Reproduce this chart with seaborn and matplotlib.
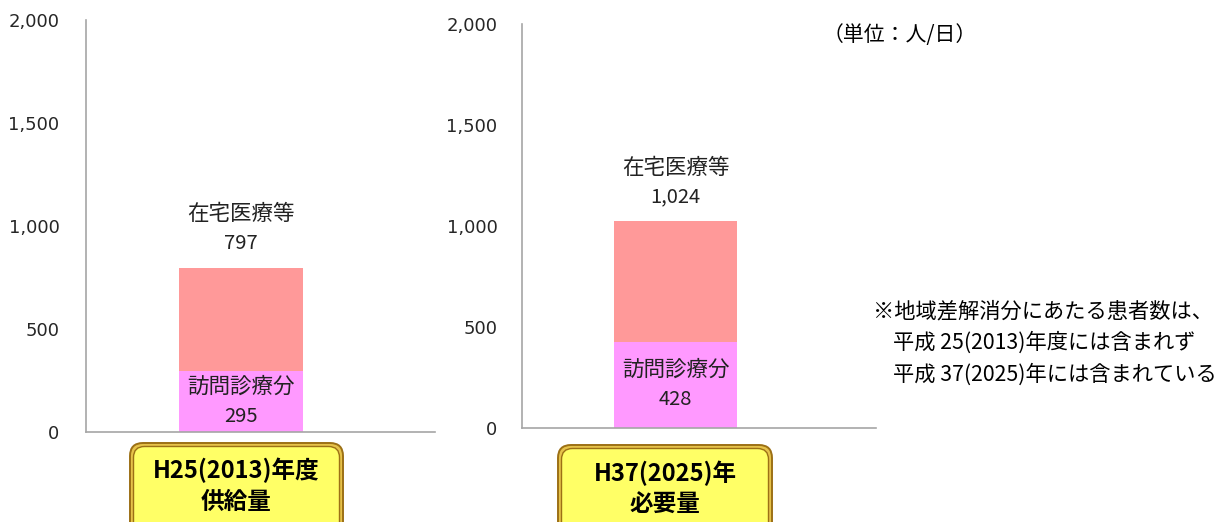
import matplotlib
matplotlib.use("Agg")
import matplotlib.pyplot as plt
import seaborn as sns
import pandas as pd
from matplotlib.patches import FancyBboxPatch
from matplotlib.ticker import FuncFormatter

# --- data -----------------------------------------------------------------
periods = ["H25(2013)年度\n供給量", "H37(2025)年\n必要量"]
home_care_total = [797, 1024]      # 在宅医療等 (bar total)
visit_care = [295, 428]            # 訪問診療分 (lower segment)
total_label = "在宅医療等"
visit_label = "訪問診療分"
y_ticks = [0, 500, 1000, 1500, 2000]
unit_text = "（単位：人/日）"
note_lines = [
    "※地域差解消分にあたる患者数は、",
    "平成 25(2013)年度には含まれず",
    "平成 37(2025)年には含まれている",
]

# --- style ----------------------------------------------------------------
sns.set_style("white")
plt.rcParams["font.family"] = ["Noto Sans CJK JP", "DejaVu Sans"]

W, H = 1228, 522
fig = plt.figure(figsize=(W / 100, H / 100), dpi=100)

TOTAL_COLOR = "#FF9999"
VISIT_COLOR = "#FF99FF"
SPINE_COLOR = "#A6A6A6"
TEXT_COLOR = "#222222"


def px_rect(x0, y_top, x1, y_bottom):
    """Axes rectangle from pixel edges (y measured from the top)."""
    return [x0 / W, (H - y_bottom) / H, (x1 - x0) / W, (y_bottom - y_top) / H]


panels = [
    dict(rect=px_rect(86, 20, 435, 432), right_ext=0.626, pad=14.0),
    dict(rect=px_rect(522, 24, 876, 428), right_ext=0.653, pad=12.6),
]

for i, spec in enumerate(panels):
    ax = fig.add_axes(spec["rect"])
    df = pd.DataFrame({
        "period": [periods[i]],
        "total": [home_care_total[i]],
        "visit": [visit_care[i]],
    })
    sns.barplot(data=df, x="period", y="total", color=TOTAL_COLOR,
                saturation=1, width=0.4, linewidth=0, errorbar=None, ax=ax)
    sns.barplot(data=df, x="period", y="visit", color=VISIT_COLOR,
                saturation=1, width=0.4, linewidth=0, errorbar=None, ax=ax)

    ax.set_ylim(0, 2000)
    ax.set_yticks(y_ticks)
    ax.yaxis.set_major_formatter(FuncFormatter(lambda v, _: f"{int(v):,}"))
    ax.set_xlim(-0.5, spec["right_ext"])
    ax.set_xticks([-0.5, 0.5])
    ax.set_xticklabels([])
    ax.set_xlabel("")
    ax.set_ylabel("")

    for side in ("top", "right"):
        ax.spines[side].set_visible(False)
    for side in ("left", "bottom"):
        ax.spines[side].set_color(SPINE_COLOR)
        ax.spines[side].set_linewidth(1.2)
    ax.tick_params(axis="both", direction="out", length=5, width=1.1,
                   color=SPINE_COLOR)
    ax.tick_params(axis="y", pad=spec["pad"], labelsize=13,
                   labelcolor="#262626")
    for lab in ax.get_yticklabels():
        lab.set_fontfamily("DejaVu Sans")

    # labels above the bar
    total = home_care_total[i]
    ax.annotate(f"{total:,}", xy=(0, total), xytext=(0, 17.3),
                textcoords="offset points", ha="center", va="center",
                fontsize=14.5, color=TEXT_COLOR)
    ax.annotate(total_label, xy=(0, total), xytext=(0, 38.5),
                textcoords="offset points", ha="center", va="center",
                fontsize=15.5, color=TEXT_COLOR)

    # labels inside the lower segment
    visit = visit_care[i]
    ax.annotate(visit_label, xy=(0, visit / 2), xytext=(0, 10.8),
                textcoords="offset points", ha="center", va="center",
                fontsize=15.5, color=TEXT_COLOR)
    ax.annotate(f"{visit:,}", xy=(0, visit / 2), xytext=(0, -10.8),
                textcoords="offset points", ha="center", va="center",
                fontsize=14.5, color=TEXT_COLOR)

# --- overlay for category boxes and notes (pixel coordinates) ---------------
ov = fig.add_axes([0, 0, 1, 1])
ov.set_xlim(0, W)
ov.set_ylim(0, H)
ov.set_axis_off()


def category_box(x0, x1, y_top, lines, line_ys):
    bottom = H - 540
    top = H - y_top
    outer = FancyBboxPatch((x0, bottom), x1 - x0, top - bottom,
                           boxstyle="round,pad=0,rounding_size=13",
                           facecolor="#E6C24A", edgecolor="#9C7015",
                           linewidth=1.4, zorder=2)
    inset = 3.5
    inner = FancyBboxPatch((x0 + inset, bottom), x1 - x0 - 2 * inset,
                           top - bottom - inset,
                           boxstyle="round,pad=0,rounding_size=11",
                           facecolor="#FFFF66", edgecolor="#9C7015",
                           linewidth=1.0, zorder=3)
    ov.add_patch(outer)
    ov.add_patch(inner)
    cx = (x0 + x1) / 2
    for text, y in zip(lines, line_ys):
        ov.text(cx, H - y, text, ha="center", va="center", fontsize=17,
                fontweight="bold", color="black", zorder=4)


category_box(130, 343, 443, periods[0].split("\n"), [470, 502])
category_box(558, 772, 445, periods[1].split("\n"), [473, 505])

ov.text(900, H - 35, unit_text, ha="center", va="center", fontsize=15,
        color="black")
ov.text(873, H - 311, note_lines[0], ha="left", va="center", fontsize=15.3,
        color="black")
ov.text(893, H - 343, note_lines[1], ha="left", va="center", fontsize=15.3,
        color="black")
ov.text(893, H - 375, note_lines[2], ha="left", va="center", fontsize=15.3,
        color="black")

fig.savefig("out.png", dpi=100)
